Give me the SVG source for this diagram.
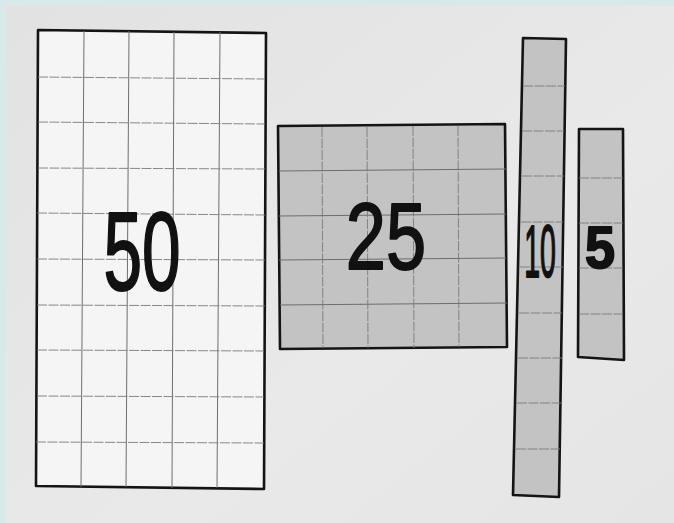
<svg xmlns="http://www.w3.org/2000/svg" width="674" height="523" viewBox="0 0 674 523">
<defs>
<linearGradient id="bg" x1="0" y1="0" x2="1" y2="1">
<stop offset="0" stop-color="#e2e2e2"/>
<stop offset="0.6" stop-color="#e9e9e9"/>
<stop offset="1" stop-color="#e5e5e5"/>
</linearGradient>
<style>
.outline{stroke:#141414;stroke-width:2.6;stroke-linejoin:round}
.white{fill:#f5f5f5}
.grey{fill:#c3c3c3}
.grid{stroke:#6e6e6e;stroke-width:1;fill:none}
.gridlight{stroke:#7a7a7a;stroke-width:0.9;fill:none;stroke-dasharray:10 1.5}
.num{font-family:"Liberation Sans",Arial,sans-serif;fill:#111;stroke:#111;stroke-width:2;stroke-linejoin:round;text-anchor:middle}
</style>
</defs>
<rect width="674" height="523" fill="#d9e8e8"/>
<rect x="6" y="6" width="668" height="517" fill="url(#bg)"/>

<g id="block50">
<polygon class="white outline" points="38,30 266,33 264,489 36,486"/>
<g class="grid">
<line x1="84" y1="31" x2="81" y2="487"/>
<line x1="129" y1="31" x2="126" y2="487"/>
<line x1="174" y1="32" x2="172" y2="488"/>
<line x1="220" y1="32" x2="217" y2="488"/>
</g>
<g class="gridlight">
<line x1="38" y1="77" x2="265" y2="79"/>
<line x1="38" y1="122" x2="265" y2="124"/>
<line x1="38" y1="168" x2="265" y2="169"/>
<line x1="37" y1="213" x2="265" y2="215"/>
<line x1="37" y1="259" x2="265" y2="260"/>
<line x1="37" y1="305" x2="265" y2="306"/>
<line x1="37" y1="350" x2="264" y2="351"/>
<line x1="37" y1="396" x2="264" y2="397"/>
<line x1="36" y1="442" x2="264" y2="443"/>
</g>
<text class="num" transform="translate(142,290) scale(0.62,1)" font-size="112">50</text>
</g>

<g id="block25">
<polygon class="grey outline" points="278,126 505,124 507,347 280,349"/>
<g class="gridlight">
<line x1="322" y1="127" x2="323" y2="348"/>
<line x1="367" y1="127" x2="368" y2="348"/>
<line x1="413" y1="126" x2="414" y2="348"/>
<line x1="458" y1="126" x2="459" y2="347"/>
</g>
<g class="grid">
<line x1="279" y1="171" x2="506" y2="169"/>
<line x1="279" y1="216" x2="506" y2="214"/>
<line x1="279" y1="260" x2="506" y2="258"/>
<line x1="280" y1="305" x2="507" y2="303"/>
</g>
<text class="num" transform="translate(386,269) scale(0.76,1)" font-size="95">25</text>
</g>

<g id="block10">
<polygon class="grey outline" points="523,38 566,39 559,497 513,495"/>
<g class="gridlight">
<line x1="523" y1="86" x2="565" y2="86"/>
<line x1="522" y1="131" x2="564" y2="131"/>
<line x1="522" y1="176" x2="564" y2="176"/>
<line x1="521" y1="222" x2="563" y2="222"/>
<line x1="520" y1="267" x2="563" y2="267"/>
<line x1="519" y1="313" x2="562" y2="313"/>
<line x1="518" y1="358" x2="562" y2="358"/>
<line x1="517" y1="403" x2="561" y2="403"/>
<line x1="516" y1="449" x2="560" y2="449"/>
</g>
<text class="num" transform="translate(540,277) scale(0.38,1)" font-size="75">10</text>
</g>

<g id="block5">
<polygon class="grey outline" points="579,129 623,129 624,360 578,357"/>
<g class="gridlight">
<line x1="579" y1="178" x2="623" y2="178"/>
<line x1="579" y1="223" x2="623" y2="223"/>
<line x1="579" y1="268" x2="623" y2="268"/>
<line x1="579" y1="314" x2="623" y2="314"/>
</g>
<text class="num" font-weight="bold" transform="translate(600,268) scale(0.9,1)" font-size="60">5</text>
</g>
</svg>
